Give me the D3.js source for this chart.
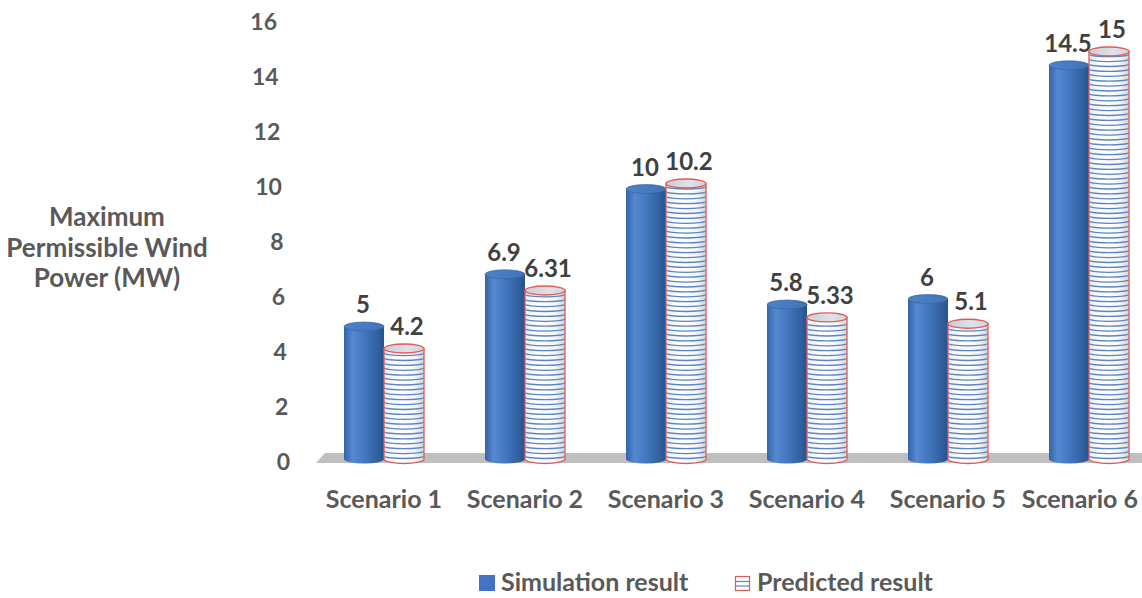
<!DOCTYPE html>
<html>
<head>
<meta charset="utf-8">
<script src="https://cdn.jsdelivr.net/npm/d3@7"></script>
<style>
  body { margin: 0; background: #ffffff; }
  svg { display: block; }
  text { font-family: Lato, "Open Sans", sans-serif; font-weight: 700; }
</style>
</head>
<body>
<svg id="chart" width="1142" height="598"></svg>
<script>
// Chart data
const categories = ["Scenario 1", "Scenario 2", "Scenario 3", "Scenario 4", "Scenario 5", "Scenario 6"];
const seriesNames = ["Simulation result", "Predicted result"];
const simulation = [5, 6.9, 10, 5.8, 6, 14.5];
const predicted = [4.2, 6.31, 10.2, 5.33, 5.1, 15];
const yTicks = [0, 2, 4, 6, 8, 10, 12, 14, 16];
const yTitle = ["Maximum", "Permissible Wind", "Power (MW)"];

const W = 1142, H = 598;
const svg = d3.select("#chart");
const defs = svg.append("defs");

// Scales
const x = d3.scaleBand().domain(categories).range([313.5, 313.5 + 141 * categories.length]);
const xs = d3.scaleBand().domain(seriesNames)
  .range([x.bandwidth() / 2 - 40, x.bandwidth() / 2 + 40]);
const y = d3.scaleLinear().domain([0, 16]).range([464, 24]);

const rows = categories.map((c, i) => ({ cat: c, values: [simulation[i], predicted[i]] }));

// Gradients
function linGrad(id, stops) {
  const g = defs.append("linearGradient").attr("id", id)
    .attr("x1", "0%").attr("x2", "100%").attr("y1", "0%").attr("y2", "0%");
  stops.forEach(([o, c]) => g.append("stop").attr("offset", o).attr("stop-color", c));
}
linGrad("blueBody", [["0%", "#3464a6"], ["22%", "#5489d1"], ["50%", "#4377bf"], ["85%", "#30609f"], ["100%", "#27528e"]]);
linGrad("blueTop", [["0%", "#4f83c9"], ["100%", "#4073b8"]]);
linGrad("predBody", [["0%", "#ececec"], ["30%", "#ffffff"], ["75%", "#f7f7f7"], ["100%", "#d4d4d4"]]);
linGrad("predTop", [["0%", "#c9ced6"], ["60%", "#dfe2e7"], ["100%", "#cfd3da"]]);

// Floor
const y0 = y(0);
svg.append("path")
  .attr("d", `M${325},${y0 - 11} L${W},${y0 - 11} L${W},${y0 - 1} L${316},${y0 - 1} Z`)
  .attr("fill", "#bfbfbf");

// Y axis tick labels (slightly slanted along the 3D wall edge)
svg.append("g").selectAll("text").data(yTicks).join("text")
  .attr("x", d => 277 + (16 - d) / 16 * 13)
  .attr("y", d => y(d) - 2)
  .attr("dy", "0.35em")
  .attr("text-anchor", "end")
  .attr("font-size", 23)
  .attr("fill", "#595959")
  .text(d => d);

// Y axis title
svg.append("text")
  .attr("x", 107).attr("y", 226)
  .attr("text-anchor", "middle")
  .attr("font-size", 26)
  .attr("fill", "#595959")
  .selectAll("tspan").data(yTitle).join("tspan")
  .attr("x", 107)
  .attr("dy", (d, i) => i === 0 ? 0 : 30.5)
  .text(d => d);

// Cylinders
const RY = 4.5;
function bodyPath(cx, w, yt, yb) {
  const l = cx - w / 2, r = cx + w / 2;
  return `M${l},${yt} L${l},${yb} A${w / 2},${RY} 0 0 0 ${r},${yb} L${r},${yt} Z`;
}

const groups = svg.append("g").selectAll("g").data(rows).join("g")
  .attr("transform", d => `translate(${x(d.cat)},0)`);

groups.each(function (row, ci) {
  const g = d3.select(this);
  row.values.forEach((v, si) => {
    const name = seriesNames[si];
    const w = xs.bandwidth();
    const cx = xs(name) + w / 2;
    const yt = y(v);
    const yb = y0 - 5;
    const d = bodyPath(cx, w, yt, yb);
    if (si === 0) {
      g.append("path").attr("d", d).attr("fill", "url(#blueBody)");
      g.append("ellipse").attr("cx", cx).attr("cy", yt).attr("rx", w / 2).attr("ry", RY)
        .attr("fill", "url(#blueTop)").attr("stroke", "#355f9a").attr("stroke-width", 0.6);
    } else {
      const clipId = `clip-${ci}`;
      defs.append("clipPath").attr("id", clipId).append("path").attr("d", d);
      g.append("path").attr("d", d).attr("fill", "url(#predBody)");
      const stripes = d3.range(yb - 1, yt + RY, -4.9);
      g.append("g").attr("clip-path", `url(#${clipId})`)
        .selectAll("path").data(stripes).join("path")
        .attr("d", s => `M${cx - w / 2},${s - 2} A${w / 2},2.5 0 0 0 ${cx + w / 2},${s - 2}`)
        .attr("fill", "none").attr("stroke", "#5a86c6").attr("stroke-width", 1.3);
      g.append("path").attr("d", d).attr("fill", "none")
        .attr("stroke", "#e05a5a").attr("stroke-width", 1.3);
      g.append("ellipse").attr("cx", cx).attr("cy", yt).attr("rx", w / 2).attr("ry", RY)
        .attr("fill", "url(#predTop)").attr("stroke", "#e05a5a").attr("stroke-width", 1.3);
    }
    // value label
    g.append("text")
      .attr("x", cx + (si === 1 ? 3 : -1))
      .attr("y", yt - RY - 9)
      .attr("text-anchor", "middle")
      .attr("font-size", 24)
      .attr("fill", "#404040")
      .text(v);
  });
});

// Category labels
svg.append("g").selectAll("text").data(categories).join("text")
  .attr("text-anchor", "middle")
  .attr("y", 508)
  .attr("font-size", 25)
  .attr("fill", "#595959")
  .text(d => d)
  .each(function (d) {
    const half = this.getComputedTextLength() / 2;
    const c = x(d) + x.bandwidth() / 2;
    d3.select(this).attr("x", Math.min(c, W - 4 - half));
  });

// Legend
const legend = svg.append("g");
legend.append("rect").attr("x", 479).attr("y", 575).attr("width", 16).attr("height", 16)
  .attr("fill", "#4472c4");
legend.append("text").attr("x", 501).attr("y", 591).attr("font-size", 25)
  .attr("fill", "#595959").text(seriesNames[0]);
legend.append("rect").attr("x", 735.5).attr("y", 576.5).attr("width", 14).attr("height", 14)
  .attr("fill", "#ffffff").attr("stroke", "#e05a5a").attr("stroke-width", 1.2);
[581.5, 586].forEach(ly => legend.append("line")
  .attr("x1", 736).attr("x2", 749).attr("y1", ly).attr("y2", ly)
  .attr("stroke", "#5a86c6").attr("stroke-width", 1.2));
legend.append("text").attr("x", 757).attr("y", 591).attr("font-size", 25)
  .attr("fill", "#595959").text(seriesNames[1]);
</script>
</body>
</html>
